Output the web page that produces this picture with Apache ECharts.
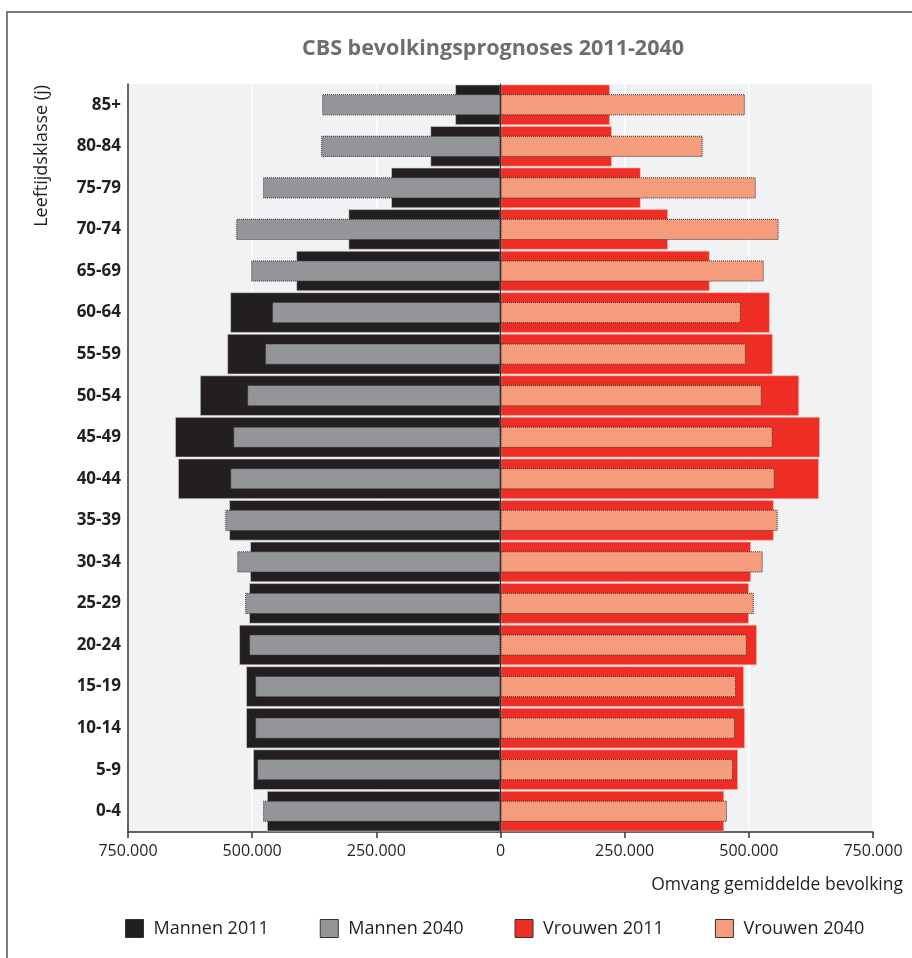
<!DOCTYPE html>
<html><head><meta charset="utf-8">
<script src="https://cdn.jsdelivr.net/npm/echarts/dist/echarts.min.js"></script>
<style>html,body{margin:0;padding:0;background:#fff;overflow:hidden}#c{width:912px;height:958px}</style>
</head><body><div id="c"></div>
<script>
// Age classes, bottom to top
const categories = ['0-4','5-9','10-14','15-19','20-24','25-29','30-34','35-39','40-44','45-49','50-54','55-59','60-64','65-69','70-74','75-79','80-84','85+'];
const mannen2011 = [470000,498000,512000,512000,526000,506000,504000,546000,649000,655000,605000,550000,544000,411000,306000,220000,141000,91000];
const mannen2040 = [478000,490000,494000,494000,506000,514000,530000,554000,544000,538000,510000,474000,460000,502000,532000,478000,361000,359000];
const vrouwen2011 = [450000,478000,492000,490000,516000,500000,504000,550000,641000,643000,601000,548000,542000,421000,337000,282000,224000,220000];
const vrouwen2040 = [456000,468000,472000,474000,496000,510000,528000,558000,552000,548000,526000,494000,484000,530000,560000,514000,407000,492000];
const xTicks = [-750000,-500000,-250000,0,250000,500000,750000];

const FONT = '"Open Sans", "Noto Sans", sans-serif';
function fmt(v){
  const a = Math.abs(v);
  return a.toString().replace(/\B(?=(\d{3})+(?!\d))/g, '.');
}

const chart = echarts.init(document.getElementById('c'), null, {renderer:'canvas'});
const option = {
  backgroundColor:'#ffffff',
  animation:false,
  title:{
    text:'CBS bevolkingsprognoses 2011-2040',
    left:488, top:33, textAlign:'center',
    textStyle:{fontFamily:FONT, fontWeight:'bold', fontSize:21.5, color:'#6d6e71'}
  },
  legend:{
    data:['Mannen 2011','Mannen 2040','Vrouwen 2011','Vrouwen 2040'],
    left:125, top:919, padding:0,
    itemWidth:18, itemHeight:18, itemGap:51,
    icon:'rect',
    itemStyle:{borderColor:'#333333', borderWidth:1, borderType:'solid'},
    textStyle:{fontFamily:FONT, fontSize:18, color:'#231f20', padding:[0,0,0,5]}
  },
  grid:{left:128, right:39, top:84, bottom:126, show:true, backgroundColor:'#f1f2f4', borderWidth:0, outerBoundsMode:'none'},
  xAxis:{
    type:'value', min:-750000, max:750000, interval:250000,
    axisLine:{show:true, onZero:false, lineStyle:{color:'#333333', width:1.5}},
    axisTick:{show:true, length:6, lineStyle:{color:'#333333', width:1.5}},
    axisLabel:{formatter:fmt, fontFamily:FONT, fontSize:16, color:'#231f20', margin:11},
    splitLine:{show:true, lineStyle:{color:'#ffffff', width:1.5}}
  },
  yAxis:[{
    type:'category', data:categories,
    axisLine:{show:true, onZero:false, lineStyle:{color:'#333333', width:1.5}},
    axisTick:{show:false},
    axisLabel:{fontFamily:FONT, fontWeight:'bold', fontSize:17, color:'#231f20', margin:7},
    splitLine:{show:false}
  },{
    type:'category', data:categories, position:'left', z:10,
    axisLine:{show:true, onZero:true, lineStyle:{color:'#333333', width:1.2}},
    axisTick:{show:false}, axisLabel:{show:false}, splitLine:{show:false}
  }],
  series:[
    {name:'Mannen 2011', type:'bar', yAxisIndex:0, stack:'y2011', barWidth:'97%',
     data:mannen2011.map(v=>-v), itemStyle:{color:'#231f20', borderColor:'#d8d8d8', borderWidth:0.6}},
    {name:'Vrouwen 2011', type:'bar', yAxisIndex:0, stack:'y2011', barWidth:'97%',
     data:vrouwen2011, itemStyle:{color:'#ee2e24', borderColor:'#f6b3ad', borderWidth:0.6}},
    {name:'Mannen 2040', type:'bar', yAxisIndex:1, stack:'y2040', barWidth:'51%',
     data:mannen2040.map(v=>-v), itemStyle:{color:'#939598', borderColor:'#333333', borderWidth:1, borderType:'dotted'}},
    {name:'Vrouwen 2040', type:'bar', yAxisIndex:1, stack:'y2040', barWidth:'51%',
     data:vrouwen2040, itemStyle:{color:'#f59c7d', borderColor:'#333333', borderWidth:1, borderType:'dotted'}}
  ],
  graphic:[
    {type:'rect', silent:true, z:-1, shape:{x:7, y:12, width:1000, height:1000},
     style:{fill:'none', stroke:'#7a7a7a', lineWidth:2}},
    {type:'text', silent:true, x:42, y:85, rotation:Math.PI/2,
     style:{text:'Leeftijdsklasse (j)', fontFamily:FONT, fontSize:18, fill:'#231f20', textAlign:'right', textVerticalAlign:'middle'}},
    {type:'text', silent:true, x:903, y:885,
     style:{text:'Omvang gemiddelde bevolking', fontFamily:FONT, fontSize:17.5, fill:'#231f20', textAlign:'right', textVerticalAlign:'middle'}}
  ]
};
chart.setOption(option);
</script>
</body></html>
